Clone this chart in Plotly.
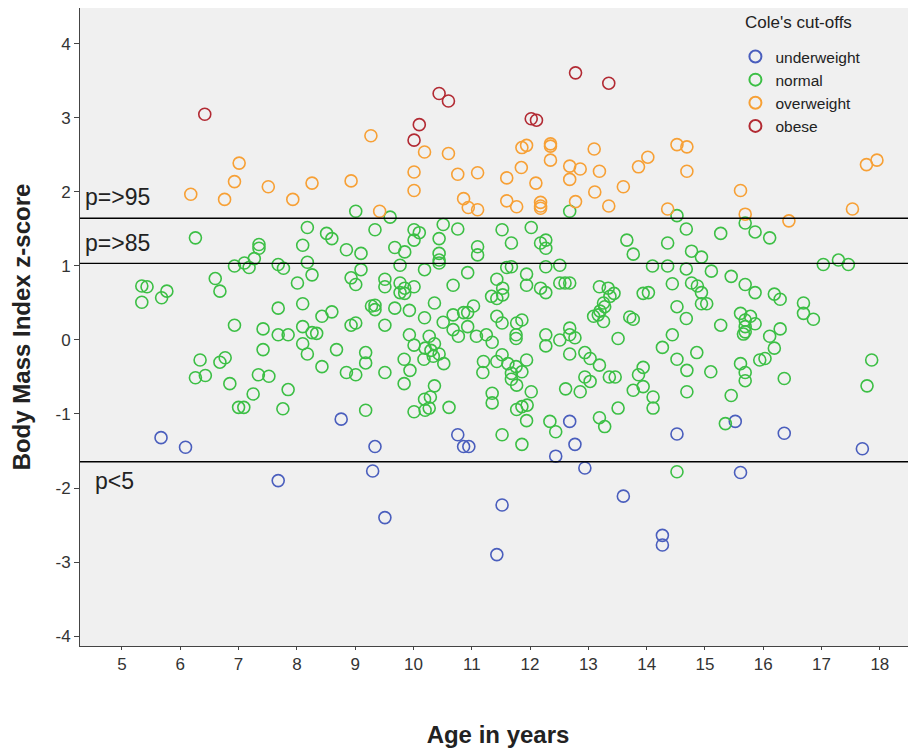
import plotly.graph_objects as go

# ---- data ----
under_age = [5.67, 6.09, 7.68, 8.76, 9.30, 9.34, 9.51, 10.76, 10.86, 10.95, 11.43, 11.52, 12.44, 12.68,
             12.77, 12.94, 13.60, 14.27, 14.27, 14.52, 15.52, 15.61, 16.36, 17.70]
under_z = [-1.32, -1.45, -1.90, -1.07, -1.77, -1.44, -2.40, -1.28, -1.44, -1.44, -2.90, -2.23, -1.57, -1.10,
           -1.41, -1.73, -2.11, -2.64, -2.77, -1.27, -1.10, -1.79, -1.26, -1.47]

obese_age = [6.42, 10.01, 10.10, 10.44, 10.60, 12.02, 12.11, 12.78, 13.35]
obese_z = [3.05, 2.70, 2.91, 3.33, 3.23, 2.99, 2.97, 3.61, 3.47]

over_age = [6.18, 6.76, 6.93, 7.01, 7.51, 7.93, 8.26, 8.93, 9.27, 9.42, 10.01, 10.01, 10.19, 10.60, 10.76,
            10.86, 10.94, 11.10, 11.10, 11.60, 11.60, 11.77, 11.85, 11.86, 11.94, 12.10, 12.18, 12.18, 12.18,
            12.35, 12.35, 12.35, 12.68, 12.68, 12.78, 12.86, 13.10, 13.11, 13.19, 13.35, 13.60, 13.86, 14.02,
            14.36, 14.52, 14.69, 14.69, 15.61, 15.69, 16.44, 17.53, 17.77, 17.95]
over_z = [1.97, 1.90, 2.14, 2.39, 2.07, 1.90, 2.12, 2.15, 2.76, 1.74, 2.27, 2.02, 2.54, 2.52, 2.24,
          1.91, 1.79, 1.76, 2.26, 2.19, 1.88, 1.80, 2.33, 2.60, 2.63, 2.12, 1.86, 1.81, 1.78,
          2.65, 2.62, 2.43, 2.35, 2.17, 1.87, 2.31, 2.58, 2.00, 2.28, 1.81, 2.07, 2.34, 2.47,
          1.77, 2.64, 2.61, 2.28, 2.02, 1.70, 1.61, 1.77, 2.37, 2.43]

normal_pts = [
    (9.01, 1.74), (9.34, 1.49), (8.18, 1.52), (8.51, 1.44), (8.60, 1.37), (8.85, 1.22), (9.10, 1.17), (8.10, 1.28),
    (6.26, 1.38), (7.35, 1.29), (7.35, 1.24), (7.27, 1.10), (7.10, 1.04), (7.18, 0.98), (6.93, 1.00), (7.68, 1.02),
    (7.77, 0.97), (8.18, 1.05), (8.26, 0.88), (8.01, 0.77), (9.10, 0.95), (8.93, 0.84), (9.01, 0.75), (6.60, 0.83),
    (6.68, 0.66), (5.34, 0.73), (5.43, 0.72), (5.77, 0.66), (5.68, 0.57), (5.34, 0.51), (7.68, 0.43), (8.10, 0.49),
    (8.43, 0.32), (8.60, 0.38), (9.28, 0.46), (9.34, 0.47), (9.34, 0.41), (6.93, 0.20), (7.42, 0.15), (7.68, 0.07),
    (7.85, 0.07), (8.10, 0.18), (8.26, 0.10), (8.34, 0.09), (8.93, 0.20), (9.01, 0.23),
    (8.10, -0.05), (8.18, -0.19), (8.68, -0.13), (9.18, -0.17), (9.18, -0.31), (7.42, -0.13), (6.34, -0.27),
    (6.68, -0.30), (6.77, -0.24), (6.26, -0.51), (6.43, -0.48), (6.85, -0.59), (7.34, -0.47), (7.52, -0.49),
    (8.43, -0.36), (8.85, -0.44), (9.01, -0.47), (7.25, -0.73), (7.85, -0.67), (7.00, -0.91), (7.09, -0.91),
    (7.76, -0.93), (9.18, -0.95), (9.51, -0.44),
    (9.60, 1.66), (12.68, 1.74), (10.01, 1.49), (10.10, 1.45), (10.01, 1.35), (10.51, 1.56), (10.76, 1.50),
    (10.44, 1.37), (9.68, 1.25), (9.85, 1.19), (10.44, 1.17), (10.44, 1.08), (10.44, 1.04), (11.10, 1.26),
    (11.10, 1.15), (11.52, 1.49), (12.02, 1.52), (11.68, 1.31), (12.18, 1.31), (12.27, 1.35), (12.27, 1.24),
    (13.66, 1.35), (9.77, 1.01), (10.19, 0.95), (10.93, 0.91), (11.60, 0.98), (11.68, 0.99), (12.27, 0.99),
    (12.51, 1.01), (9.51, 0.82), (9.51, 0.72), (9.77, 0.77), (9.77, 0.64), (9.85, 0.70), (9.85, 0.63),
    (10.01, 0.72), (10.68, 0.74), (11.43, 0.82), (11.53, 0.70), (11.34, 0.59), (11.43, 0.56), (11.53, 0.61),
    (11.94, 0.89), (11.94, 0.74), (12.18, 0.70), (12.27, 0.64), (12.51, 0.77), (12.60, 0.77), (12.68, 0.77),
    (13.19, 0.72), (13.34, 0.70), (13.44, 0.63), (13.37, 0.59), (13.26, 0.50), (13.20, 0.39), (13.28, 0.45),
    (13.09, 0.32), (13.17, 0.34), (13.26, 0.25), (9.68, 0.43), (9.93, 0.40), (10.36, 0.50), (10.19, 0.30),
    (9.51, 0.20), (9.93, 0.07), (10.27, 0.05), (10.51, 0.24), (10.68, 0.34), (10.68, 0.14), (10.86, 0.37),
    (10.93, 0.37), (11.03, 0.46), (10.93, 0.18), (11.43, 0.32), (11.52, 0.23), (11.77, 0.23), (11.86, 0.27),
    (12.68, 0.16), (12.77, 0.03), (12.68, 0.07), (12.27, 0.07), (12.51, 0.00), (13.51, 0.02), (13.71, 0.31),
    (11.08, 0.05), (11.25, 0.07), (11.35, -0.03), (10.77, 0.05),
    (10.01, -0.07), (10.36, -0.05), (10.20, -0.11), (10.30, -0.14), (10.44, -0.19), (10.18, -0.26),
    (10.34, -0.22), (10.52, -0.32), (9.84, -0.26), (9.94, -0.41), (9.84, -0.59), (10.36, -0.62), (10.19, -0.80),
    (10.29, -0.77), (10.20, -0.95), (10.27, -0.92), (10.01, -0.97), (10.61, -0.91), (11.76, 0.07), (11.76, 0.02),
    (12.27, -0.08), (12.68, -0.19), (12.94, -0.17), (13.03, -0.25), (13.19, -0.34), (13.36, -0.50),
    (13.46, -0.50), (11.20, -0.29), (11.19, -0.44), (11.43, -0.29), (11.52, -0.20), (11.62, -0.32),
    (11.76, -0.36), (11.86, -0.43), (11.94, -0.27), (11.68, -0.45), (11.68, -0.53), (11.77, -0.61),
    (12.02, -0.70), (11.35, -0.72), (11.35, -0.85), (11.77, -0.94), (11.86, -0.90), (11.95, -0.88),
    (11.94, -1.09), (11.52, -1.28), (11.86, -1.41), (12.34, -1.10), (12.44, -1.24), (12.61, -0.66),
    (12.86, -0.70), (12.94, -0.50), (13.03, -0.56), (13.19, -1.05), (13.28, -1.17), (13.51, -0.92),
    (14.44, 0.07), (14.27, -0.10), (14.52, -0.26), (14.69, -0.41), (14.86, -0.17), (13.94, -0.37),
    (13.86, -0.47), (13.77, -0.68), (13.94, -0.63), (14.11, -0.77), (14.11, -0.92), (14.69, -0.70),
    (15.10, -0.43), (15.61, -0.32), (15.69, -0.44), (15.69, -0.55), (15.45, -0.75), (15.94, -0.27),
    (16.03, -0.25), (16.19, -0.11), (16.11, 0.05), (16.29, 0.15), (16.36, -0.52), (15.35, -1.13),
    (17.86, -0.27), (17.78, -0.62), (15.66, 0.08), (14.52, -1.78),
    (14.52, 1.68), (15.69, 1.58), (14.68, 1.50), (15.27, 1.44), (15.86, 1.46), (16.11, 1.38), (14.36, 1.31),
    (13.77, 1.16), (14.77, 1.20), (14.94, 1.12), (14.10, 1.00), (14.36, 1.00), (14.68, 0.96), (15.11, 0.93),
    (15.45, 0.86), (15.69, 0.75), (15.86, 0.64), (16.19, 0.62), (16.29, 0.55), (16.69, 0.50), (16.69, 0.36),
    (16.86, 0.28), (17.03, 1.02), (17.29, 1.08), (17.46, 1.02), (14.44, 0.76), (14.77, 0.77), (14.87, 0.73),
    (14.94, 0.64), (14.94, 0.49), (15.03, 0.49), (13.94, 0.63), (14.03, 0.64), (14.52, 0.45), (14.68, 0.29),
    (13.77, 0.28), (15.27, 0.20), (15.61, 0.36), (15.69, 0.27), (15.78, 0.32), (15.86, 0.22), (15.69, 0.18),
    (15.69, 0.11),
]
normal_age = [p[0] for p in normal_pts]
normal_z = [p[1] for p in normal_pts]

cutoff_values = [1.645, 1.036, -1.645]
cutoff_labels = ["p=>95", "p=>85", "p<5"]

x_ticks = list(range(5, 19))
y_ticks = [-4, -3, -2, -1, 0, 1, 2, 3, 4]
y_ticktext = ["-4", "-3", "-2", "-1", "0", "1", "2", "3", "4"]

# ---- figure ----
FONT = "Liberation Sans, Arial, sans-serif"
fig = go.Figure()
series = [
    ("underweight", under_age, under_z, "#4A5EBD"),
    ("normal", normal_age, normal_z, "#3CBF45"),
    ("overweight", over_age, over_z, "#F7A035"),
    ("obese", obese_age, obese_z, "#B22A33"),
]
for name, xs, ys, col in series:
    fig.add_trace(go.Scatter(
        x=xs, y=ys, mode="markers", name=name,
        marker=dict(symbol="circle-open", size=12, color=col, line=dict(width=1.6, color=col)),
    ))

for v in cutoff_values:
    fig.add_shape(type="line", xref="paper", x0=0, x1=1, yref="y", y0=v, y1=v,
                  line=dict(color="black", width=1.3))

label_y = [1.93, 1.31, -1.91]
label_x = [0.004, 0.004, 0.016]
for txt, yy, xx in zip(cutoff_labels, label_y, label_x):
    fig.add_annotation(text=txt, xref="paper", x=xx, xanchor="left", yref="y", y=yy,
                       showarrow=False, font=dict(size=23, color="#222", family=FONT))

# legend title placed as a text label
fig.add_annotation(text="Cole's cut-offs", xref="paper", yref="paper", x=0.793, y=0.978,
                   xanchor="left", yanchor="middle", showarrow=False,
                   font=dict(size=17, color="#222", family=FONT))

fig.update_layout(
    width=908, height=746,
    margin=dict(l=72, r=0, t=0, b=108, autoexpand=False),
    paper_bgcolor="white", plot_bgcolor="#F0F0F0",
    font=dict(family=FONT, color="#222", size=17),
    legend=dict(
        x=0.784, y=0.95, xanchor="left", yanchor="top",
        bgcolor="rgba(0,0,0,0)", font=dict(size=15.5, color="#222"),
        tracegroupgap=0, itemsizing="constant",
    ),
    showlegend=True,
)
fig.update_xaxes(
    range=[4.28, 18.62], tickvals=x_ticks, showgrid=False, zeroline=False, automargin=False,
    ticks="outside", ticklen=3, tickcolor="#444", tickfont=dict(size=17, color="#333"),
    showline=True, linecolor="#444", linewidth=1,
    title=dict(text="<b>Age in years</b>", font=dict(size=24, color="#222"), standoff=52),
)
fig.update_yaxes(
    range=[-4.135, 4.486], tickvals=y_ticks, ticktext=y_ticktext, showgrid=False, zeroline=False,
    automargin=False,
    ticks="outside", ticklen=5, tickcolor="#444", tickfont=dict(size=17, color="#333"),
    showline=True, linecolor="#444", linewidth=1,
    title=dict(text="<b>Body Mass Index z-score</b>", font=dict(size=24, color="#222"), standoff=20),
)

fig.write_html("out.html")
